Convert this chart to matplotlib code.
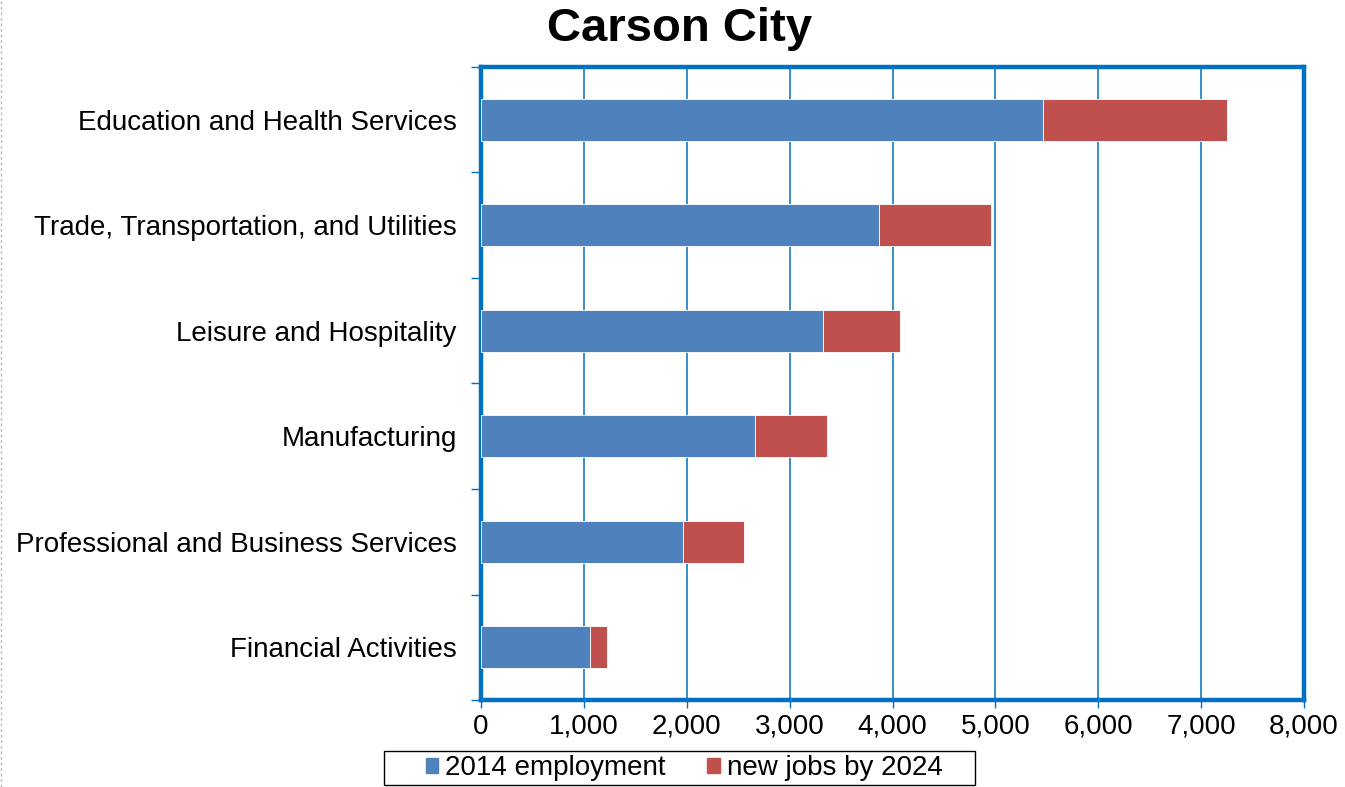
import matplotlib.pyplot as plt
from matplotlib.ticker import FuncFormatter, FixedLocator
from matplotlib.lines import Line2D
from matplotlib.patches import Rectangle

plt.rcParams['font.family'] = ['Liberation Sans', 'DejaVu Sans']

# data
industries = ['Education and Health Services',
              'Trade, Transportation, and Utilities',
              'Leisure and Hospitality',
              'Manufacturing',
              'Professional and Business Services',
              'Financial Activities']
emp_2014 = [5460, 3870, 3320, 2660, 1960, 1060]
new_jobs = [1790, 1090, 750, 700, 600, 165]

blue = '#4F81BD'
red = '#C0504D'
frame = '#0070C0'
W, H = 1345, 787

fig = plt.figure(figsize=(13.45, 7.87), dpi=100)
ax = fig.add_axes([481/W, 1 - 700/H, (1304-481)/W, (700-67)/H])

y = list(range(len(industries)))[::-1]
ax.barh(y, emp_2014, height=0.4, color=blue, edgecolor='white', linewidth=0.6,
        label='2014 employment', zorder=3)
ax.barh(y, new_jobs, left=emp_2014, height=0.4, color=red, edgecolor='white',
        linewidth=0.6, label='new jobs by 2024', zorder=3)

ax.set_xlim(0, 8000)
ax.set_ylim(-0.5, len(industries) - 0.5)
ax.set_xticks(range(0, 8001, 1000))
ax.xaxis.set_major_formatter(FuncFormatter(lambda v, p: f'{int(v):,}'))
ax.grid(axis='x', color=frame, linewidth=1.1, zorder=0)

ax.set_yticks(y)
ax.set_yticklabels(industries)
ax.yaxis.set_minor_locator(FixedLocator([i - 0.5 for i in range(len(industries) + 1)]))
ax.tick_params(axis='y', which='major', length=0, pad=17.5, labelsize=20)
ax.tick_params(axis='y', which='minor', length=7, width=1, color=frame, direction='out')
ax.tick_params(axis='x', which='major', length=6, width=1, color=frame,
               labelsize=20, pad=4)

for s in ax.spines.values():
    s.set_color(frame)
    s.set_linewidth(3.2)

fig.text(0.505, 0.963, 'Carson City', ha='center', va='center',
         fontsize=34, fontweight='bold')

handles = [Rectangle((0, 0), 1, 1, color=blue), Rectangle((0, 0), 1, 1, color=red)]
leg = fig.legend(handles, ['2014 employment', 'new jobs by 2024'], ncol=2,
                 loc='center', bbox_to_anchor=(684/W, 1 - 768/H), fontsize=20,
                 frameon=False, handlelength=0.45, handleheight=0.45,
                 handletextpad=0.25, columnspacing=1.5, borderpad=0,
                 borderaxespad=0)
# legend box drawn separately (wide side padding)
fig.add_artist(Rectangle((384/W, 1 - 785/H), (975-384)/W, (785-751)/H,
                         transform=fig.transFigure, fill=False,
                         edgecolor='black', linewidth=1.0))

# dotted border at left edge
fig.add_artist(Line2D([0.001, 0.001], [0, 1], transform=fig.transFigure,
                      color='#bbbbbb', linestyle=(0, (2, 2)), linewidth=1))

fig.savefig('out.png', dpi=100)
